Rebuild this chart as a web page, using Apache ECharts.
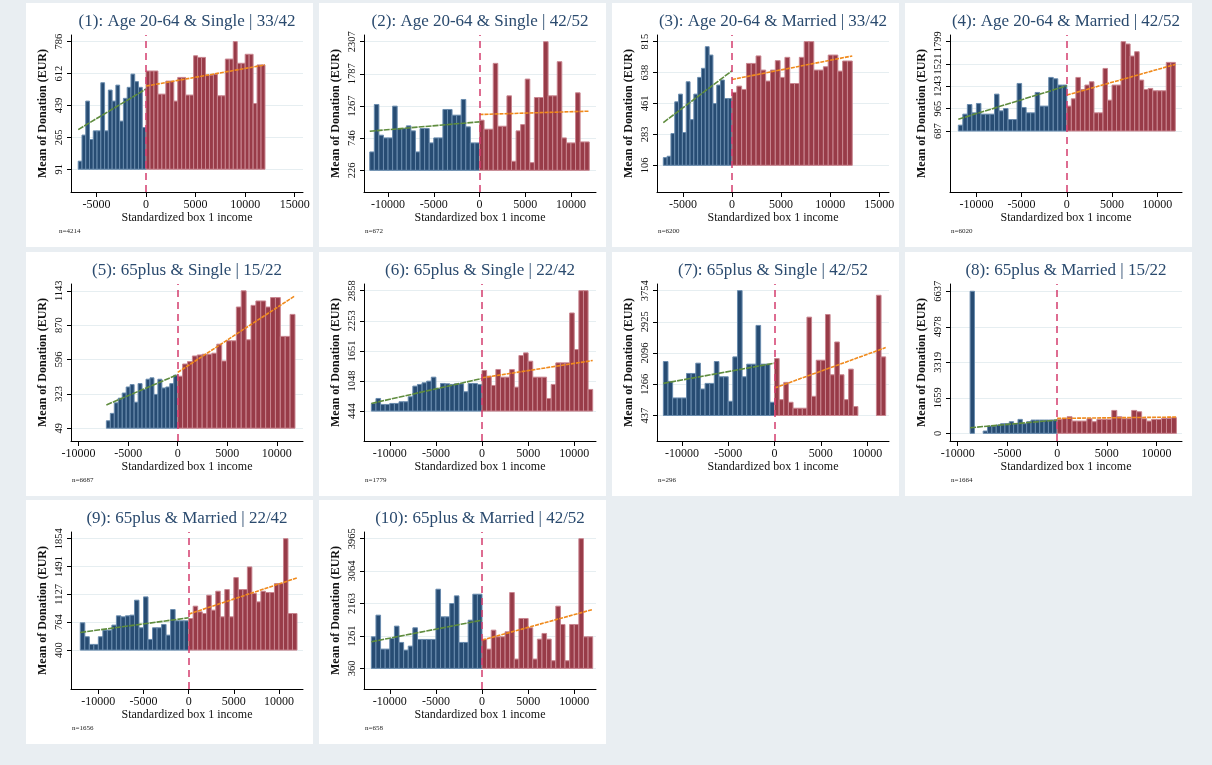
<!DOCTYPE html>
<html>
<head>
<meta charset="utf-8">
<script src="https://cdn.jsdelivr.net/npm/echarts@6/dist/echarts.min.js"></script>
<style>
html,body{margin:0;padding:0;background:#e9eef2;}
#wrap{position:relative;width:1212px;height:765px;overflow:hidden;}
.panel{position:absolute;background:#ffffff;}
#chart{position:absolute;left:0;top:0;width:1212px;height:765px;}
</style>
</head>
<body>
<div id="wrap"><div id="chart"></div></div>
<script>
// ---------------- DATA ----------------
const titles = [
  "(1): Age 20-64 & Single | 33/42", "(2): Age 20-64 & Single | 42/52",
  "(3): Age 20-64 & Married | 33/42", "(4): Age 20-64 & Married | 42/52",
  "(5): 65plus & Single | 15/22", "(6): 65plus & Single | 22/42",
  "(7): 65plus & Single | 42/52", "(8): 65plus & Married | 15/22",
  "(9): 65plus & Married | 22/42", "(10): 65plus & Married | 42/52"
];
const sampleNotes = ["n=4214","n=672","n=6200","n=6020","n=6687","n=1779","n=296","n=1664","n=1656","n=658"];
const xAxisTitle = "Standardized box 1 income";
const yAxisTitle = "Mean of Donation (EUR)";

const yTicks = [
  [91, 265, 439, 612, 786],
  [226, 746, 1267, 1787, 2307],
  [106, 283, 461, 638, 815],
  [687, 965, 1243, 1521, 1799],
  [49, 323, 596, 870, 1143],
  [444, 1048, 1651, 2253, 2858],
  [437, 1266, 2096, 2925, 3754],
  [0, 1659, 3319, 4978, 6637],
  [400, 764, 1127, 1491, 1854],
  [360, 1261, 2163, 3064, 3965]
];
const xTicksWide = [-5000, 0, 5000, 10000, 15000];
const xTicksSym = [-10000, -5000, 0, 5000, 10000];
const xTicks = [xTicksWide, xTicksSym, xTicksWide, xTicksSym, xTicksSym, xTicksSym, xTicksSym, xTicksSym, xTicksSym, xTicksSym];

const xMin = [-7567, -12628, -7643, -12920, -10769, -12797, -12687, -10774, -13028, -12797];
const xMax = [15833, 12737, 15993, 12737, 12642, 12358, 12358, 12559, 12661, 12358];
const yMin = [-33, -125, -47, -72, -53, -156, -240, -357, -108, -213];
const yMax = [822, 2415, 853, 1882, 1197, 2992, 3930, 6977, 1941, 4150];

const blueStart = [-6840, -12000, -7000, -12000, -7200, -12000, -12000, -8750, -12000, -12000];
const blueWidth = [380, 500, 388.9, 500, 400, 500, 500, 437.5, 500, 500];
const redWidth  = [400, 500, 490, 500, 493, 500, 500, 500, 500, 500];

const blue1 = [135, 277, 462, 253, 300, 300, 562, 300, 522, 462, 549, 353, 477, 537, 609, 568, 537, 318];
const red1  = [626, 626, 626, 500, 500, 571, 571, 462, 591, 591, 495, 495, 709, 700, 700, 604, 604, 609, 491, 491, 691, 691, 786, 668, 668, 717, 717, 449, 659, 659];
const blue2 = [523, 1291, 794, 750, 750, 1264, 902, 902, 945, 864, 523, 902, 902, 669, 750, 750, 1210, 1210, 1118, 1118, 1372, 929, 669, 669];
const red2  = [1037, 891, 891, 1956, 939, 939, 1431, 372, 864, 966, 1702, 350, 1404, 1404, 2307, 1431, 1431, 1983, 750, 669, 669, 1480, 685, 685];
const blue3 = [150, 158, 288, 470, 514, 294, 585, 368, 514, 610, 662, 786, 738, 460, 566, 595, 489, 489];
const red3  = [524, 560, 541, 690, 690, 733, 652, 589, 652, 706, 610, 725, 575, 575, 725, 815, 815, 652, 652, 671, 738, 738, 646, 704, 704];
const blue4 = [760, 897, 1017, 913, 1030, 897, 897, 897, 1146, 938, 967, 830, 830, 1279, 980, 913, 913, 1167, 997, 997, 1354, 1337, 1259, 1259];
const red4  = [997, 1088, 1354, 1204, 1259, 1300, 913, 913, 1466, 1071, 1259, 1259, 1799, 1770, 1620, 1674, 1321, 1204, 1217, 1188, 1188, 1188, 1541, 1541];
const blue5 = [108, 167, 251, 288, 329, 377, 396, 256, 404, 358, 439, 450, 318, 439, 369, 377, 404, 471];
const red5  = [463, 560, 579, 624, 632, 638, 638, 646, 718, 584, 745, 745, 1014, 1143, 753, 1027, 1062, 1062, 1014, 1089, 1089, 780, 780, 955];
const blue6 = [597, 697, 577, 577, 597, 597, 631, 631, 731, 944, 978, 1011, 1044, 1124, 898, 998, 991, 978, 991, 991, 831, 998, 998, 978];
const red6  = [1258, 1144, 958, 1278, 1124, 1124, 1278, 924, 1558, 1611, 1444, 1124, 1124, 1124, 697, 978, 1411, 1411, 1411, 2411, 1678, 2858, 2858, 878];
const blue7 = [1871, 1343, 903, 903, 903, 1554, 1554, 1827, 1141, 1290, 1290, 1871, 1466, 1466, 815, 1994, 3754, 1466, 1801, 1801, 2830, 1801, 1801, 789];
const red7  = [1950, 859, 1317, 789, 631, 631, 631, 3050, 947, 1906, 1906, 3120, 1519, 2390, 1519, 859, 1669, 675, null, null, null, null, 3631, 1994];
const blue8 = [6637, null, null, 109, 342, 342, 389, 451, 451, 544, 451, 653, 451, 544, 622, 622, 622, 622, 622, 622];
const red8  = [653, 699, 777, 575, 575, 575, 684, 544, 653, 653, 653, 1072, 777, 684, 684, 1072, 1010, 684, 575, 653, 653, 699, 699, 730];
const blue9 = [756, 574, 474, 474, 574, 660, 660, 726, 847, 834, 847, 856, 1051, 691, 1094, 539, 691, 691, 734, 595, 929, 782, 782, 782];
const red9  = [812, 973, 899, 877, 1116, 921, 1168, 834, 1190, 834, 1346, 1190, 1190, 1485, 1138, 1029, 1168, 1151, 1151, 1268, 1268, 1854, 877, 877];
const blue10 = [1238, 1839, 896, 896, 1192, 1534, 1081, 868, 979, 1488, 1164, 1164, 1164, 1164, 2560, 1793, 1793, 2163, 2375, 1081, 1081, 1700, 2421, 2421];
const red10  = [1164, 896, 1423, 1238, 1238, 1377, 2468, 619, 1747, 1747, 1488, 619, 1173, 1331, 1173, 573, 2089, 1580, 573, 1580, 1580, 3965, 1238, 1238];

const blueVals = [blue1, blue2, blue3, blue4, blue5, blue6, blue7, blue8, blue9, blue10];
const redVals = [red1, red2, red3, red4, red5, red6, red7, red8, red9, red10];

// linear fits (endpoints)
const fitLeft = [
  [[-6840, 307], [0, 528]], [[-12000, 858], [0, 1010]], [[-7000, 351], [0, 648]], [[-12000, 834], [0, 1250]],
  [[-7200, 234], [0, 476]], [[-12000, 597], [0, 1098]], [[-12000, 1290], [0, 1827]], [[-8750, 264], [0, 622]],
  [[-12000, 630], [0, 821]], [[-12000, 1100], [0, 1700]]
];
const fitRight = [
  [[0, 544], [12000, 659]], [[0, 1129], [12000, 1183]], [[0, 598], [12250, 733]], [[0, 1134], [12000, 1516]],
  [[0, 493], [11830, 1103]], [[0, 1111], [12000, 1458]], [[0, 1167], [12000, 2241]], [[0, 699], [12000, 761]],
  [[0, 869], [12000, 1342]], [[0, 1146], [12000, 1996]]
];

// ---------------- LAYOUT / STYLE ----------------
const colLeft = [26, 319, 612, 905];
const rowTop = [3, 252, 500];
const panelW = 287, panelH = 244;
const plotOffX = 45, plotOffY = 32, plotW = 232, plotH = 157;
const SERIF = '"Liberation Serif", "Times New Roman", serif';
const C = {
  blueFill: '#274c73', blueEdge: '#6a8cae',
  redFill: '#983b48', redEdge: '#c98690',
  green: '#5f8c3e', orange: '#f08a1c', cutoff: '#d43d6e',
  title: '#2a4a6e', text: '#111111', grid: '#e6eef1'
};

const wrap = document.getElementById('wrap');
const chartDiv = document.getElementById('chart');
for (let k = 0; k < 10; k++) {
  const d = document.createElement('div');
  d.className = 'panel';
  d.style.left = colLeft[k % 4] + 'px';
  d.style.top = rowTop[Math.floor(k / 4)] + 'px';
  d.style.width = panelW + 'px';
  d.style.height = panelH + 'px';
  wrap.insertBefore(d, chartDiv);
}

const grids = [], xAxes = [], yAxes = [], series = [], gElems = [];
const fmt = v => String(v);

function barSeries(k, vals, start, width, fill, edge) {
  const data = [];
  vals.forEach((v, i) => { if (v != null) data.push([start + i * width, start + (i + 1) * width, v]); });
  const base = yTicks[k][0];
  return {
    type: 'custom', xAxisIndex: k, yAxisIndex: k, data: data, silent: true, z: 2,
    encode: { x: [0, 1], y: 2 },
    renderItem: function (params, api) {
      const p0 = api.coord([api.value(0), base]);
      const p1 = api.coord([api.value(1), api.value(2)]);
      return {
        type: 'rect',
        shape: { x: p0[0], y: p1[1], width: p1[0] - p0[0], height: p0[1] - p1[1] },
        style: { fill: fill, stroke: edge, lineWidth: 1 }
      };
    }
  };
}

for (let k = 0; k < 10; k++) {
  const pl = colLeft[k % 4], pt = rowTop[Math.floor(k / 4)];
  grids.push({ left: pl + plotOffX, top: pt + plotOffY, width: plotW, height: plotH,
               containLabel: false, outerBoundsMode: 'none', show: false });
  xAxes.push({
    gridIndex: k, type: 'value', min: xMin[k], max: xMax[k],
    axisLine: { show: true, onZero: false, lineStyle: { color: '#000', width: 1 } },
    axisTick: { show: true, length: 5, customValues: xTicks[k], lineStyle: { color: '#000' } },
    axisLabel: { customValues: xTicks[k], formatter: fmt, margin: 7, fontFamily: SERIF, fontSize: 12, color: C.text },
    splitLine: { show: false },
    name: xAxisTitle, nameLocation: 'middle', nameGap: 19,
    nameTextStyle: { fontFamily: SERIF, fontSize: 12, color: C.text }
  });
  yAxes.push({
    gridIndex: k, type: 'value', min: yMin[k], max: yMax[k],
    axisLine: { show: true, onZero: false, lineStyle: { color: '#000', width: 1 } },
    axisTick: { show: true, length: 4, customValues: yTicks[k], lineStyle: { color: '#000' } },
    axisLabel: { customValues: yTicks[k], formatter: fmt, rotate: 90, margin: 6, fontFamily: SERIF, fontSize: 10.5, color: C.text },
    splitLine: { show: true, lineStyle: { color: C.grid, width: 1 } },
    name: yAxisTitle, nameLocation: 'middle', nameGap: 22,
    nameTextStyle: { fontFamily: SERIF, fontSize: 12, fontWeight: 'bold', color: C.text }
  });
  series.push(barSeries(k, blueVals[k], blueStart[k], blueWidth[k], C.blueFill, C.blueEdge));
  series.push(barSeries(k, redVals[k], 0, redWidth[k], C.redFill, C.redEdge));
  series.push({
    type: 'line', xAxisIndex: k, yAxisIndex: k, data: fitLeft[k], showSymbol: false, silent: true, z: 3,
    lineStyle: { color: C.green, width: 1.6, type: [6, 1] }
  });
  series.push({
    type: 'line', xAxisIndex: k, yAxisIndex: k, data: fitRight[k], showSymbol: false, silent: true, z: 3,
    lineStyle: { color: C.orange, width: 1.6, type: [4, 1] },
    markLine: {
      silent: true, symbol: ['none', 'none'], label: { show: false },
      lineStyle: { color: C.cutoff, width: 1.5, type: [7, 5] },
      data: [{ xAxis: 0 }]
    }
  });
  gElems.push({
    type: 'text', x: pl + plotOffX + plotW / 2, y: pt + 19, silent: true,
    style: { text: titles[k], fontFamily: SERIF, fontSize: 17, fill: C.title, align: 'center', verticalAlign: 'middle' }
  });
  gElems.push({
    type: 'text', x: pl + (k === 0 ? 33 : 46), y: pt + 228, silent: true,
    style: { text: sampleNotes[k], fontFamily: SERIF, fontSize: 7, fill: '#222', align: 'left', verticalAlign: 'middle' }
  });
}

const chart = echarts.init(chartDiv, null, { renderer: 'canvas', width: 1212, height: 765 });
chart.setOption({
  backgroundColor: 'transparent',
  animation: false,
  grid: grids, xAxis: xAxes, yAxis: yAxes, series: series,
  graphic: { elements: gElems }
});
</script>
</body>
</html>
